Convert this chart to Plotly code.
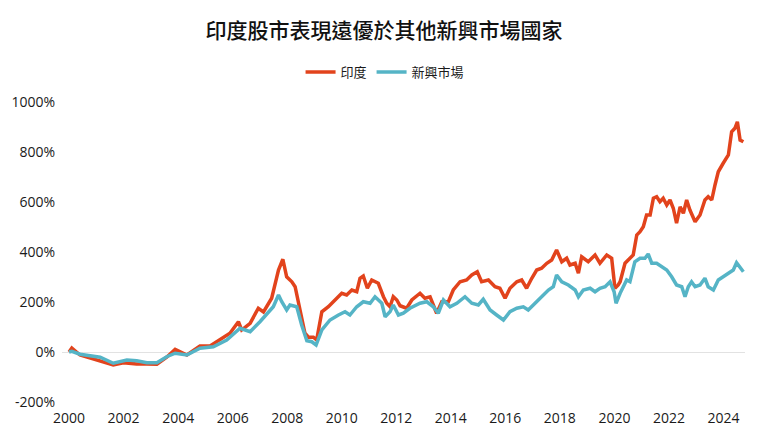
import plotly.graph_objects as go

# cumulative return (%) vs decimal year
india_year = [
    2000.00, 2000.10, 2000.40, 2000.77, 2001.14, 2001.62, 2001.99, 2002.48, 2002.85, 2003.22,
    2003.58, 2003.89, 2004.32, 2004.80, 2005.17, 2005.54, 2005.90, 2006.21, 2006.33, 2006.64,
    2006.94, 2007.13, 2007.43, 2007.68, 2007.84, 2007.98, 2008.17, 2008.29, 2008.47, 2008.65,
    2008.78, 2008.96, 2009.08, 2009.27, 2009.51, 2009.75, 2010.00, 2010.18, 2010.37, 2010.55,
    2010.67, 2010.79, 2010.94, 2011.10, 2011.34, 2011.53, 2011.65, 2011.77, 2011.89, 2012.02,
    2012.14, 2012.38, 2012.57, 2012.87, 2013.05, 2013.24, 2013.48, 2013.67, 2013.91, 2014.09,
    2014.34, 2014.58, 2014.77, 2014.97, 2015.13, 2015.38, 2015.62, 2015.80, 2015.99, 2016.17,
    2016.42, 2016.60, 2016.78, 2016.97, 2017.15, 2017.33, 2017.52, 2017.70, 2017.88, 2018.07,
    2018.25, 2018.37, 2018.56, 2018.68, 2018.80, 2019.04, 2019.29, 2019.47, 2019.72, 2019.90,
    2020.02, 2020.14, 2020.21, 2020.39, 2020.57, 2020.69, 2020.82, 2020.94, 2021.06, 2021.18,
    2021.31, 2021.43, 2021.55, 2021.67, 2021.79, 2021.92, 2022.04, 2022.16, 2022.28, 2022.41,
    2022.53, 2022.65, 2022.77, 2022.96, 2023.14, 2023.32, 2023.44, 2023.57, 2023.69, 2023.81,
    2023.99, 2024.18, 2024.30, 2024.42, 2024.51, 2024.61, 2024.73,
]
india_ret = [
    0, 16, -12, -25, -35, -52, -43, -48, -48, -49,
    -21, 11, -12, 24, 24, 48, 75, 121, 88, 115,
    175, 160, 215, 328, 371, 301, 281, 261, 175, 75,
    59, 59, 48, 161, 181, 208, 235, 228, 248, 241,
    295, 304, 255, 288, 275, 221, 195, 181, 221, 208,
    185, 175, 208, 235, 215, 221, 155, 201, 201, 248,
    281, 288, 308, 321, 281, 288, 261, 255, 215, 255,
    281, 288, 255, 295, 328, 335, 355, 368, 408, 361,
    375, 348, 355, 315, 381, 361, 388, 355, 388, 375,
    255, 268, 281, 355, 375, 388, 468, 481, 501, 548,
    548, 615, 621, 601, 615, 588, 608, 575, 515, 581,
    555, 608, 568, 521, 548, 608, 621, 608, 668, 721,
    755, 788, 881, 895, 921, 848, 841,
]

em_year = [
    2000.00, 2000.10, 2000.40, 2001.14, 2001.62, 2002.12, 2002.48, 2002.85, 2003.22, 2003.58,
    2003.89, 2004.32, 2004.80, 2005.29, 2005.78, 2006.27, 2006.64, 2007.00, 2007.49, 2007.68,
    2007.80, 2007.98, 2008.10, 2008.35, 2008.53, 2008.72, 2008.90, 2009.06, 2009.27, 2009.57,
    2009.88, 2010.12, 2010.30, 2010.55, 2010.79, 2011.04, 2011.22, 2011.47, 2011.59, 2011.77,
    2011.89, 2012.08, 2012.26, 2012.50, 2012.87, 2013.12, 2013.36, 2013.54, 2013.73, 2013.97,
    2014.22, 2014.52, 2014.77, 2015.01, 2015.19, 2015.44, 2015.68, 2015.93, 2016.17, 2016.42,
    2016.66, 2016.84, 2017.09, 2017.33, 2017.58, 2017.76, 2017.88, 2018.07, 2018.31, 2018.56,
    2018.68, 2018.86, 2019.11, 2019.29, 2019.47, 2019.66, 2019.84, 2019.99, 2020.06, 2020.21,
    2020.45, 2020.57, 2020.75, 2020.94, 2021.12, 2021.24, 2021.37, 2021.55, 2021.73, 2021.92,
    2022.10, 2022.28, 2022.47, 2022.59, 2022.71, 2022.83, 2022.96, 2023.14, 2023.32, 2023.44,
    2023.63, 2023.81, 2023.99, 2024.18, 2024.36, 2024.48, 2024.61, 2024.73,
]
em_ret = [
    0, 3, -9, -21, -45, -32, -35, -43, -43, -19,
    -5, -12, 15, 21, 48, 95, 81, 121, 181, 228,
    201, 168, 188, 181, 108, 45, 41, 28, 88, 128,
    148, 161, 148, 181, 201, 195, 221, 195, 141, 161,
    188, 148, 155, 175, 195, 201, 181, 155, 208, 181,
    195, 221, 195, 188, 211, 168, 148, 128, 161, 175,
    181, 168, 195, 221, 248, 261, 308, 281, 268, 248,
    221, 248, 255, 241, 255, 261, 281, 241, 195, 235,
    288, 281, 361, 375, 375, 392, 355, 355, 341, 328,
    301, 268, 261, 221, 261, 281, 261, 268, 295, 261,
    248, 288, 301, 315, 328, 357, 335, 321,
]

year_ticks = list(range(2000, 2025, 2))
pct_ticks = list(range(-200, 1001, 200))

fig = go.Figure()
fig.add_trace(go.Scatter(
    x=india_year, y=india_ret, name="印度", mode="lines",
    line=dict(color="#E2431C", width=3.5),
))
fig.add_trace(go.Scatter(
    x=em_year, y=em_ret, name="新興市場", mode="lines",
    line=dict(color="#55B4C6", width=3.5),
))

# page body adds an 8px margin, so the figure is 8px smaller on each side
fig.update_layout(
    width=752, height=432,
    margin=dict(l=54, r=15, t=94, b=38),
    paper_bgcolor="white", plot_bgcolor="white",
    font=dict(family="Open Sans, Noto Sans CJK TC", size=14, color="#1a1a1a"),
    title=dict(
        text="印度股市表現遠優於其他新興市場國家",
        x=0.5, xanchor="center", y=0.948, yanchor="middle",
        font=dict(family="Noto Sans CJK TC", size=21, color="#111", weight=500),
    ),
    legend=dict(
        orientation="h", x=0.473, xanchor="center", y=1.1, yanchor="middle",
        font=dict(family="Noto Sans CJK TC", size=13, color="#1a1a1a"),
        itemwidth=30,
    ),
    showlegend=True,
)
fig.update_xaxes(
    range=[1999.74, 2024.79], tickvals=year_ticks,
    ticktext=[str(y) for y in year_ticks],
    showgrid=False, zeroline=False, showline=False,
    ticklabelstandoff=6, automargin=False,
)
fig.update_yaxes(
    range=[-200, 1000], tickvals=pct_ticks,
    ticktext=[f"{v}%" for v in pct_ticks],
    showgrid=False, zeroline=True, zerolinecolor="#E2E2E2", zerolinewidth=1,
    showline=False, ticklabelstandoff=6, automargin=False,
)

fig.write_html("out.html")
